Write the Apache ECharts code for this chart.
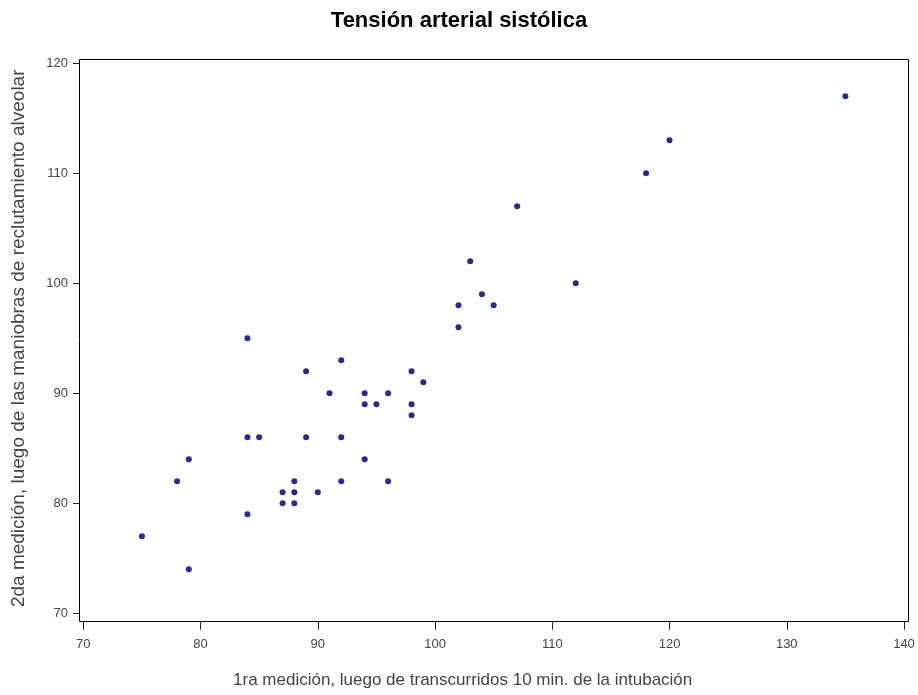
<!DOCTYPE html>
<html>
<head>
<meta charset="utf-8">
<title>Tensión arterial sistólica</title>
<script src="https://cdn.jsdelivr.net/npm/echarts@6/dist/echarts.min.js"></script>
<style>
  html, body { margin: 0; padding: 0; background: #fff; }
  #chart { width: 918px; height: 695px; }
</style>
</head>
<body>
<div id="chart"></div>
<script>
// 1ra medición (x) y 2da medición (y), un par por paciente
var primeraMedicion = [75, 78, 79, 79, 84, 84, 85, 84, 87, 87, 88, 88, 88, 89, 89, 90, 91, 92, 92, 92,
  94, 94, 95, 94, 96, 96, 98, 98, 98, 99, 102, 102, 103, 104, 105, 107, 112, 118, 120, 135]
var segundaMedicion = [77, 82, 84, 74, 95, 86, 86, 79, 81, 80, 82, 81, 80, 92, 86, 81, 90, 93, 86, 82,
  90, 89, 89, 84, 90, 82, 92, 89, 88, 91, 98, 96, 102, 99, 98, 107, 100, 110, 113, 117]
var xTicks = [70, 140, 10]
var yTicks = [70, 120, 10]

var puntos = primeraMedicion.map(function (v, i) { return [v, segundaMedicion[i]] })

var chart = echarts.init(document.getElementById('chart'))
chart.setOption({
  backgroundColor: '#fff',
  animation: false,
  textStyle: { fontFamily: 'Liberation Sans, Arial, sans-serif' },
  title: {
    text: 'Tensión arterial sistólica',
    left: 'center',
    top: 5,
    textStyle: { fontSize: 22, fontWeight: 'bold', color: '#000' }
  },
  grid: { left: 83.3, right: 14, top: 63.3, bottom: 81.7 },
  xAxis: {
    type: 'value',
    min: xTicks[0],
    max: xTicks[1],
    interval: xTicks[2],
    offset: 8.4,
    name: '1ra medición, luego de transcurridos 10 min. de la intubación',
    nameLocation: 'middle',
    nameGap: 50,
    // el rótulo va centrado en la página, no en el eje
    nameTextStyle: { fontSize: 17, color: '#444', padding: [0, 62, 0, 0] },
    axisLine: { show: false },
    axisTick: { show: true, length: 8, lineStyle: { color: '#222' } },
    axisLabel: { margin: 16, fontSize: 13, color: '#444' },
    splitLine: { show: false }
  },
  yAxis: {
    type: 'value',
    min: yTicks[0],
    max: yTicks[1],
    interval: yTicks[2],
    offset: 4.3,
    name: '2da medición, luego de las maniobras de reclutamiento alveolar',
    nameLocation: 'middle',
    nameGap: 51,
    nameTextStyle: { fontSize: 19, color: '#444' },
    axisLine: { show: false },
    axisTick: { show: true, length: 6, lineStyle: { color: '#222' } },
    axisLabel: { margin: 11, fontSize: 13, color: '#444' },
    splitLine: { show: false }
  },
  graphic: [{
    type: 'rect',
    shape: { x: 79.5, y: 59.5, width: 829, height: 562 },
    style: { fill: null, stroke: '#000', lineWidth: 1 },
    silent: true
  }],
  series: [{
    type: 'scatter',
    data: puntos,
    symbol: 'circle',
    symbolSize: 6,
    itemStyle: { color: '#2a2a92', opacity: 1 }
  }]
})
</script>
</body>
</html>
